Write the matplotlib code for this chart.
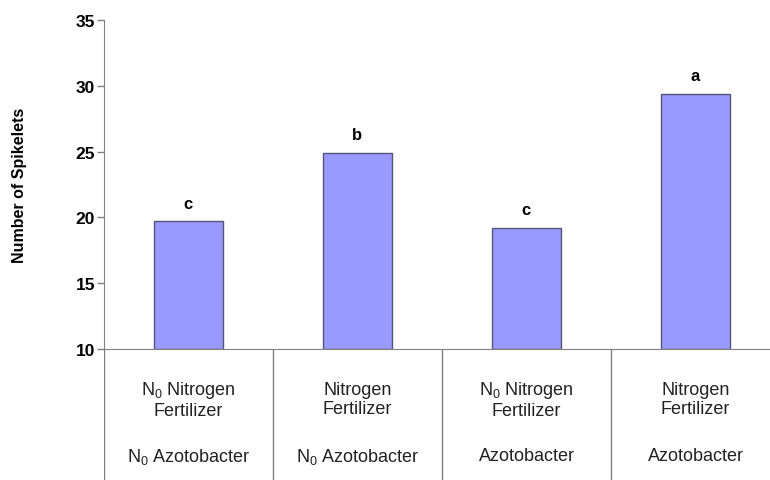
import matplotlib.pyplot as plt

plt.rcParams['font.family'] = ['Liberation Sans', 'DejaVu Sans']
plt.rcParams['mathtext.fontset'] = 'custom'
plt.rcParams['mathtext.rm'] = 'Liberation Sans'
plt.rcParams['mathtext.it'] = 'Liberation Sans'

# spikelet counts per treatment
nitrogen = ['N$_0$ Nitrogen\nFertilizer', 'Nitrogen\nFertilizer',
            'N$_0$ Nitrogen\nFertilizer', 'Nitrogen\nFertilizer']
azotobacter = ['N$_0$ Azotobacter', 'N$_0$ Azotobacter', 'Azotobacter', 'Azotobacter']
spikelets = [19.7, 24.9, 19.2, 29.4]
letters = ['c', 'b', 'c', 'a']
yticks = [10, 15, 20, 25, 30, 35]

W, H = 770, 481
fig = plt.figure(figsize=(W / 100, H / 100), dpi=100)

x0, x1 = 104, 780
y_base, y_top = 350, 21
ax = fig.add_axes([x0 / W, (H - y_base) / H, (x1 - x0) / W, (y_base - y_top) / H])
grey = '#808080'

xs = range(len(spikelets))
ax.bar(xs, [v - 10 for v in spikelets], bottom=10, width=0.41,
       color='#9999ff', edgecolor='#555577', linewidth=1)
for x, v, l in zip(xs, spikelets, letters):
    ax.text(x, v + 0.8, l, ha='center', va='bottom', fontsize=12, fontweight='bold')

ax.set_xlim(-0.5, 3.5)
ax.set_ylim(10, 35)
ax.set_yticks(yticks)
ax.set_xticks([])
ax.tick_params(axis='y', length=5, width=1, color=grey, pad=1.5, labelsize=12.5)
for t in ax.get_yticklabels():
    t.set_fontweight('bold')
ax.spines['top'].set_visible(False)
ax.spines['right'].set_visible(False)
ax.spines['left'].set_color(grey)
ax.spines['bottom'].set_color(grey)
ax.set_ylabel('Number of Spikelets', fontsize=11.5, fontweight='bold', labelpad=35)

# treatment table under the bars
tab = fig.add_axes([x0 / W, 0, (x1 - x0) / W, (H - y_base) / H])
tab.set_xlim(-0.5, 3.5)
tab.set_ylim(H - y_base, 0)
tab.axis('off')
for xv in [-0.5, 0.5, 1.5, 2.5]:
    tab.axvline(xv, color=grey, linewidth=1)
for x, n, a in zip(xs, nitrogen, azotobacter):
    tab.text(x, 50, n, ha='center', va='center', fontsize=13, color='#222222',
             linespacing=1.1)
    tab.text(x, 107, a, ha='center', va='center', fontsize=13, color='#222222')

fig.savefig('out.png', dpi=100)
